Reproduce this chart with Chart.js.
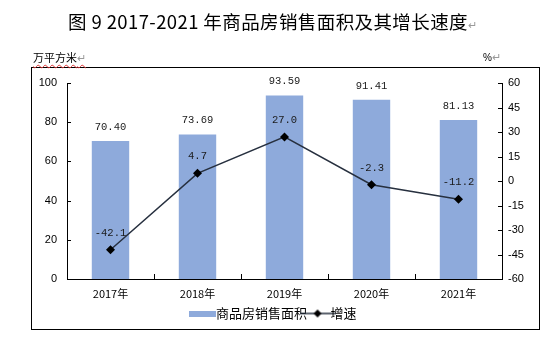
<!DOCTYPE html>
<html>
<head>
<meta charset="utf-8">
<script src="https://cdn.jsdelivr.net/npm/chart.js@4/dist/chart.umd.min.js"></script>
<style>
  html, body { margin: 0; padding: 0; background: #fff; }
  #wrap { position: relative; width: 553px; height: 340px; overflow: hidden; }
  #c { position: absolute; left: 0; top: 0; }
  .txt { position: absolute; white-space: nowrap; color: #000; }
  #title { left: 68px; top: 8px; font-family: "Noto Sans CJK SC", sans-serif; font-size: 18.5px; font-weight: 400; line-height: 26px; letter-spacing: 0.4px; }
  .mark { color: #9a9a9a; font-size: 11px; font-weight: 400; }
  #unitL { left: 33px; top: 50px; font-family: "Noto Sans CJK SC", sans-serif; font-size: 11px; line-height: 15px; text-decoration: underline wavy #d33; text-decoration-thickness: 1px; text-underline-offset: 2px; }
  #unitR { left: 483px; top: 50px; font-family: "Liberation Sans", sans-serif; font-size: 10px; line-height: 15px; }
  #box { position: absolute; left: 31px; top: 67px; width: 507px; height: 261px; border: 1px solid #000; }
</style>
</head>
<body>
<div id="wrap">
  <div id="box"></div>
  <canvas id="c" width="553" height="340"></canvas>
  <div class="txt" id="title">图 9 2017-2021 年商品房销售面积及其增长速度<span class="mark">↵</span></div>
  <div class="txt" id="unitL">万平方米<span class="mark">↵</span></div>
  <div class="txt" id="unitR">%<span class="mark">↵</span></div>
</div>
<script>
const categories = ["2017年", "2018年", "2019年", "2020年", "2021年"];
const salesArea = [70.40, 73.69, 93.59, 91.41, 81.13];
const growthRate = [-42.1, 4.7, 27.0, -2.3, -11.2];
const leftTicks = [0, 20, 40, 60, 80, 100];
const rightTicks = [-60, -45, -30, -15, 0, 15, 30, 45, 60];
const seriesNames = ["商品房销售面积", "增速"];

const barColor = "#8eaadb";
const lineColor = "#27303f";

function makeBarSwatch() {
  const cv = document.createElement("canvas");
  cv.width = 27; cv.height = 6;
  const g = cv.getContext("2d");
  g.fillStyle = barColor; g.fillRect(0, 0, 27, 6);
  return cv;
}
function makeLineSwatch() {
  const cv = document.createElement("canvas");
  cv.width = 36; cv.height = 10;
  const g = cv.getContext("2d");
  g.strokeStyle = lineColor; g.lineWidth = 1.5;
  g.beginPath(); g.moveTo(0, 5); g.lineTo(36, 5); g.stroke();
  g.fillStyle = "#000";
  g.beginPath(); g.moveTo(18, 1); g.lineTo(22, 5); g.lineTo(18, 9); g.lineTo(14, 5); g.closePath(); g.fill();
  return cv;
}
const swatches = [makeBarSwatch(), makeLineSwatch()];

const tickPlugin = {
  id: "innerTicks",
  afterDatasetsDraw(chart) {
    const ctx = chart.ctx;
    const a = chart.chartArea;
    const y = chart.scales.y, y1 = chart.scales.y1, x = chart.scales.x;
    ctx.save();
    ctx.strokeStyle = "#000"; ctx.lineWidth = 1;
    ctx.beginPath();
    leftTicks.forEach(v => { const p = Math.round(y.getPixelForValue(v)) + 0.5; ctx.moveTo(a.left, p); ctx.lineTo(a.left + 4, p); });
    rightTicks.forEach(v => { const p = Math.round(y1.getPixelForValue(v)) + 0.5; ctx.moveTo(a.right, p); ctx.lineTo(a.right - 4, p); });
    const half = (x.getPixelForValue(1) - x.getPixelForValue(0)) / 2;
    for (let i = 1; i < categories.length; i++) {
      const p = Math.round(x.getPixelForValue(i) - half) + 0.5;
      ctx.moveTo(p, a.bottom); ctx.lineTo(p, a.bottom - 5);
    }
    ctx.stroke();

    // value labels
    ctx.fillStyle = "#1a1a1a";
    ctx.font = "10.5px 'Liberation Mono', monospace";
    ctx.textAlign = "center"; ctx.textBaseline = "middle";
    const barMeta = chart.getDatasetMeta(0);
    barMeta.data.forEach((el, i) => {
      ctx.fillText(salesArea[i].toFixed(2), el.x, el.y - 14);
    });
    const lineMeta = chart.getDatasetMeta(1);
    lineMeta.data.forEach((el, i) => {
      ctx.fillText(growthRate[i].toFixed(1), el.x, el.y - 17);
    });
    ctx.restore();
  }
};

new Chart(document.getElementById("c"), {
  data: {
    labels: categories,
    datasets: [
      {
        type: "bar",
        label: seriesNames[0],
        data: salesArea,
        yAxisID: "y",
        backgroundColor: barColor,
        borderWidth: 0,
        barPercentage: 0.43,
        categoryPercentage: 1.0,
        order: 2
      },
      {
        type: "line",
        label: seriesNames[1],
        data: growthRate,
        yAxisID: "y1",
        borderColor: lineColor,
        borderWidth: 1.5,
        pointStyle: "rectRot",
        pointRadius: 4.5,
        pointBackgroundColor: "#000",
        pointBorderColor: "#000",
        pointBorderWidth: 0,
        tension: 0,
        order: 1
      }
    ]
  },
  options: {
    responsive: false,
    animation: false,
    devicePixelRatio: 1,
    layout: { padding: { top: 83, bottom: 10, left: 0, right: 0 } },
    plugins: {
      legend: {
        position: "bottom",
        labels: {
          usePointStyle: true,
          font: { family: "'Noto Sans CJK SC', sans-serif", size: 13 },
          color: "#000",
          padding: 4,
          boxHeight: 10,
          generateLabels(chart) {
            return chart.data.datasets.map((ds, i) => ({
              text: ds.label,
              pointStyle: swatches[i],
              fillStyle: "rgba(0,0,0,0)",
              strokeStyle: "rgba(0,0,0,0)",
              lineWidth: 0,
              hidden: false,
              datasetIndex: i
            }));
          }
        }
      },
      tooltip: { enabled: false }
    },
    scales: {
      x: {
        offset: true,
        grid: { display: false, drawTicks: false },
        border: { display: true, color: "#000", width: 1 },
        ticks: { color: "#000", padding: 8, font: { family: "'Noto Sans CJK SC', sans-serif", size: 11 } },
        afterFit(s) { s.height = 24; }
      },
      y: {
        position: "left",
        min: 0, max: 100,
        afterBuildTicks(s) { s.ticks = leftTicks.map(v => ({ value: v })); },
        grid: { display: false, drawTicks: false },
        border: { display: true, color: "#000", width: 1 },
        ticks: { color: "#000", padding: 10, font: { family: "'Liberation Sans', sans-serif", size: 11 } },
        afterFit(s) { s.width = 67; }
      },
      y1: {
        position: "right",
        min: -60, max: 60,
        afterBuildTicks(s) { s.ticks = rightTicks.map(v => ({ value: v })); },
        grid: { display: false, drawTicks: false },
        border: { display: true, color: "#000", width: 1 },
        ticks: { color: "#000", padding: 6, font: { family: "'Liberation Sans', sans-serif", size: 11 } },
        afterFit(s) { s.width = 51; }
      }
    }
  },
  plugins: [tickPlugin]
});
</script>
</body>
</html>
